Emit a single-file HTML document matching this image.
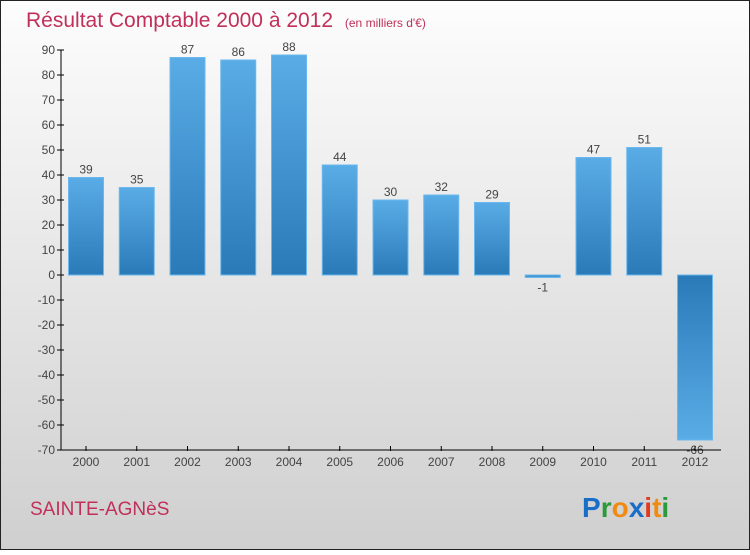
<!DOCTYPE html>
<html><head><meta charset="utf-8"><style>
html,body{margin:0;padding:0}
body{width:750px;height:550px;overflow:hidden;font-family:"Liberation Sans",sans-serif}
</style></head><body>
<svg id="chart" width="750" height="550" xmlns="http://www.w3.org/2000/svg">
<defs>
<linearGradient id="bg" x1="0" y1="0" x2="0" y2="1"><stop offset="0" stop-color="#fdfdfd"/><stop offset="1" stop-color="#cfcfcf"/></linearGradient>
<linearGradient id="bp" x1="0" y1="0" x2="0" y2="1"><stop offset="0" stop-color="#5aace6"/><stop offset="1" stop-color="#2a7ab8"/></linearGradient>
<linearGradient id="bn" x1="0" y1="0" x2="0" y2="1"><stop offset="0" stop-color="#2a7ab8"/><stop offset="1" stop-color="#5aace6"/></linearGradient>
</defs>
<rect x="0.5" y="0.5" width="749" height="549" fill="url(#bg)" stroke="#222"/>
<text x="26" y="27" font-size="21" fill="#c0305a">Résultat Comptable 2000 à 2012 <tspan font-size="12" dx="6">(en milliers d'€)</tspan></text>
<g id="yaxis"></g>
<g id="bars"></g>
<g id="xaxis"></g>
<text x="30" y="515" font-size="19" fill="#c0305a">SAINTE-AGNèS</text>
<g font-size="28" font-weight="bold" font-family="Liberation Sans, sans-serif">
<text x="582" y="517"><tspan fill="#1a6ec8">P</tspan><tspan fill="#2a9a3a">r</tspan><tspan fill="#f08a10">o</tspan><tspan fill="#1a6ec8">x</tspan><tspan fill="#e03a20">i</tspan><tspan fill="#f08a10">t</tspan><tspan fill="#2a9a3a">i</tspan></text>
</g>
</svg>
<script>
const years=["2000","2001","2002","2003","2004","2005","2006","2007","2008","2009","2010","2011","2012"];
const values=[39,35,87,86,88,44,30,32,29,-1,47,51,-66];
const yTicks=[90,80,70,60,50,40,30,20,10,0,-10,-20,-30,-40,-50,-60,-70];
const NS="http://www.w3.org/2000/svg";
const y=v=>275-v*2.5;
const x=i=>86+i*50.75;
function mk(t,a,p){const e=document.createElementNS(NS,t);for(const k in a)e.setAttribute(k,a[k]);p.appendChild(e);return e;}
const ya=document.getElementById('yaxis'),ba=document.getElementById('bars'),xa=document.getElementById('xaxis');
mk('line',{x1:61,y1:y(90),x2:61,y2:y(-70),stroke:'#000'},ya);
yTicks.forEach(t=>{
 const l=mk('line',{x1:57,y1:y(t),x2:64,y2:y(t),stroke:'#000'},ya);
 
 
 const tx=mk('text',{x:55,y:y(t)+4,'text-anchor':'end','font-size':12,fill:'#444'},ya);
 
 
 tx.textContent=t;
});
values.forEach((v,i)=>{
 const top=Math.min(y(v),y(0)),h=Math.abs(y(v)-y(0));
 const r=mk('rect',{x:x(i)-17.5,y:top,width:35,height:Math.max(h,1),fill:v>=0?'url(#bp)':'url(#bn)',stroke:'#6bb8ee','stroke-width':1},ba);
 
 
 const tx=mk('text',{x:x(i),y:v>=0?y(v)-4:y(v)+14,'text-anchor':'middle','font-size':12,fill:'#444'},ba);
 
 
 tx.textContent=v;
});
mk('line',{x1:61,y1:450,x2:721,y2:450,stroke:'#000'},xa);
years.forEach((yr,i)=>{
 const l=mk('line',{x1:x(i),y1:446,x2:x(i),y2:451,stroke:'#000'},xa);
 
 
 const tx=mk('text',{x:x(i),y:466,'text-anchor':'middle','font-size':12,fill:'#444'},xa);
 
 
 tx.textContent=yr;
});
</script>
</body></html>
